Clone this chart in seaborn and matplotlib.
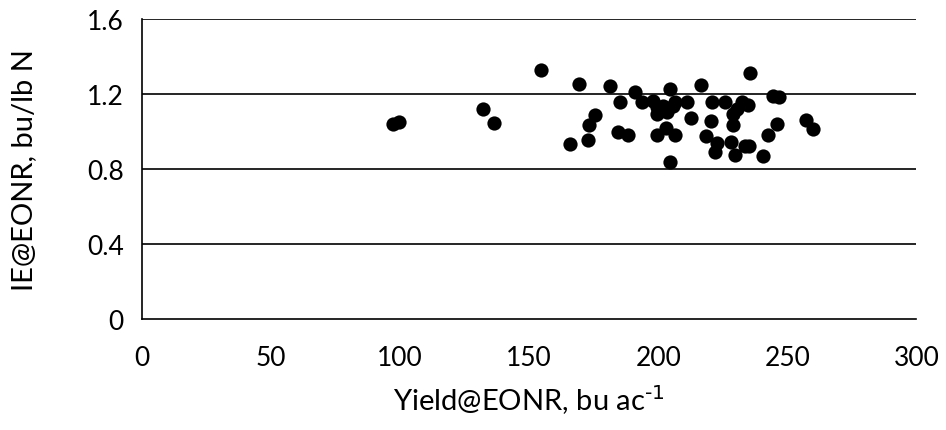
import matplotlib
matplotlib.use("Agg")
import matplotlib.pyplot as plt
import seaborn as sns
import pandas as pd

yield_eonr = [97.2, 99.5, 132, 136.4, 154.5, 166, 169.3, 172.9, 173.3, 175.5,
              181.3, 184.5, 185.2, 188.4, 191, 193.6, 198, 199.4, 199.4, 199.4,
              202, 203.3, 203, 204.5, 204.5, 205.8, 206.5, 206.5, 211, 212.6,
              216.5, 218.5, 220.3, 220.7, 221.9, 222.6, 225.8, 228.1, 228.8, 229,
              229.7, 230.4, 232.3, 233.5, 234.9, 235.2, 235.5, 240.4, 242.4, 244.5,
              246.1, 246.8, 257.2, 260]
ie_eonr = [1.04, 1.053, 1.12, 1.045, 1.33, 0.933, 1.253, 0.956, 1.035, 1.088,
           1.244, 0.999, 1.156, 0.981, 1.209, 1.156, 1.164, 1.129, 1.093, 0.981,
           1.138, 1.102, 1.017, 1.227, 0.839, 1.138, 1.156, 0.981, 1.159, 1.07,
           1.248, 0.974, 1.058, 1.156, 0.892, 0.939, 1.156, 0.942, 1.093, 1.035,
           0.875, 1.12, 1.156, 0.924, 1.141, 0.921, 1.312, 0.871, 0.981, 1.191,
           1.04, 1.186, 1.063, 1.013]

x_ticks = [0, 50, 100, 150, 200, 250, 300]
y_ticks = [0, 0.4, 0.8, 1.2, 1.6]
y_tick_labels = ["0", "0.4", "0.8", "1.2", "1.6"]

df = pd.DataFrame({"yield": yield_eonr, "ie": ie_eonr})

sns.set_style("white")
plt.rcParams["font.family"] = ["Lato", "DejaVu Sans"]
plt.rcParams["axes.unicode_minus"] = False
plt.rcParams["mathtext.default"] = "regular"

fig = plt.figure(figsize=(9.46, 4.31), dpi=100)
ax = fig.add_axes([0.1498, 0.2575, 0.819, 0.6961])

ax.set_xlim(0, 300)
ax.set_ylim(0, 1.6)
ax.set_xticks(x_ticks)
ax.set_yticks(y_ticks)
ax.set_yticklabels(y_tick_labels)

for yv in y_ticks[1:]:
    ax.axhline(yv, color="black", lw=1.2, zorder=1)

sns.scatterplot(data=df, x="yield", y="ie", ax=ax, color="black", s=105,
                edgecolor="black", linewidth=0, zorder=3, legend=False)

for side in ["top", "right"]:
    ax.spines[side].set_visible(False)
for side in ["left", "bottom"]:
    ax.spines[side].set_color("black")
    ax.spines[side].set_linewidth(1.2)

ax.tick_params(axis="both", direction="out", length=7, width=1.2, color="black",
               labelsize=19, labelcolor="black", pad=6)
ax.tick_params(axis="x", pad=12)

ax.set_xlabel(r"Yield@EONR, bu ac$^{\text{-1}}$", fontsize=21, labelpad=9, color="black")
ax.set_ylabel("IE@EONR, bu/lb N", fontsize=21, labelpad=36, color="black")

fig.savefig("out.png", dpi=100)
